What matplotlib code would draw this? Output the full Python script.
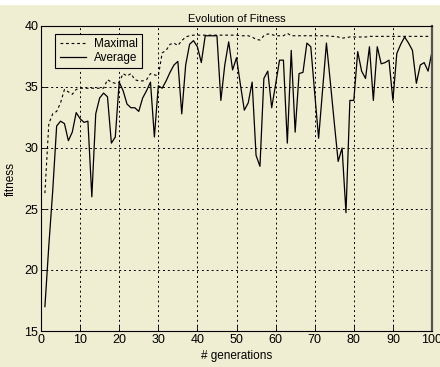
import matplotlib
matplotlib.use("Agg")
from matplotlib import pyplot as plt

import numpy as np

# values, one per generation (1..100)
generations = np.arange(1, 101)

maximal = [
    26.3, 32.0, 32.8, 33.0, 33.7, 34.8, 34.6, 34.4, 34.8, 34.9,
    34.9, 34.9, 34.9, 34.9, 34.9, 34.9, 35.6, 35.4, 35.3, 35.4,
    36.1, 35.9, 36.1, 35.6, 35.5, 35.5, 35.6, 36.1, 36.0, 35.9,
    37.8, 38.0, 38.5, 38.6, 38.4, 38.8, 39.1, 39.2, 39.25, 39.25,
    39.25, 39.25, 39.25, 39.25, 39.25, 39.25, 39.25, 39.25, 39.25, 39.25,
    39.2, 39.2, 39.2, 39.1, 38.9, 38.85, 39.2, 39.35, 39.3, 39.2,
    39.2, 39.2, 39.4, 39.2, 39.2, 39.2, 39.2, 39.2, 39.2, 39.2,
    39.2, 39.2, 39.2, 39.15, 39.15, 39.1, 39.0, 39.05, 39.1, 39.1,
    39.1, 39.1, 39.1, 39.15, 39.15, 39.15, 39.15, 39.15, 39.15, 39.15,
    39.15, 39.15, 39.15, 39.15, 39.15, 39.15, 39.15, 39.15, 39.15, 39.15,
]

average = [
    17.0, 22.0, 26.5, 31.8, 32.2, 32.0, 30.6, 31.3, 32.9, 32.4,
    32.1, 32.2, 26.0, 32.8, 34.1, 34.5, 34.2, 30.4, 30.9, 35.4,
    34.7, 33.6, 33.3, 33.3, 33.0, 34.1, 34.7, 35.4, 30.9, 35.1,
    34.9, 35.5, 36.2, 36.8, 37.1, 32.8, 36.8, 38.5, 38.8, 38.3,
    37.0, 39.2, 39.2, 39.2, 39.2, 33.9, 36.8, 38.7, 36.4, 37.4,
    35.2, 33.1, 33.7, 35.4, 29.4, 28.5, 35.7, 36.3, 33.3, 35.2,
    37.2, 37.2, 30.4, 38.0, 31.3, 36.1, 36.2, 38.6, 38.3, 34.5,
    30.8, 34.7, 38.6, 35.4, 32.1, 28.9, 30.0, 24.7, 33.9, 33.9,
    37.9, 36.3, 35.7, 38.3, 33.9, 38.3, 36.9, 37.0, 37.2, 33.9,
    37.75, 38.5, 39.1, 38.6, 38.0, 35.3, 36.8, 37.0, 36.3, 37.9,
]

BG = "#efedd2"

plt.rcParams["font.family"] = ["Liberation Sans", "DejaVu Sans"]
plt.rcParams["font.size"] = 8

fig = plt.figure(figsize=(4.4, 3.67), dpi=100, facecolor=BG)
ax = fig.add_axes([41 / 440, 1 - 331 / 367, 391 / 440, 305 / 367])
ax.set_facecolor(BG)

ax.plot(generations, maximal, color="black", lw=0.8, ls=(0, (2.5, 2.5)),
        label="Maximal")
ax.plot(generations, average, color="black", lw=0.9, label="Average")

ax.set(xlim=[0, 100], ylim=[15, 40],
       xticks=np.arange(0, 101, 10), yticks=np.arange(15, 41, 5))
ax.grid(True, color="black", ls=(0, (2, 3)), lw=0.7)
ax.tick_params(direction="in", length=4, width=0.6, top=False, right=False,
               labelsize=9, pad=2)
for s in ax.spines.values():
    s.set_linewidth(0.8)
ax.spines["right"].set_linewidth(1.6)
ax.spines["right"].set_color("#555555")

ax.set_title("Evolution of Fitness", fontsize=8, pad=3)
ax.set_xlabel("# generations", fontsize=8.5, labelpad=3)
ax.set_ylabel("fitness", fontsize=8.5, labelpad=5)

leg = ax.legend(loc="upper left", bbox_to_anchor=(0.028, 0.985), fontsize=8.5,
                fancybox=False, edgecolor="black", facecolor=BG, framealpha=1,
                handlelength=2.2, handletextpad=0.7, labelspacing=0.15,
                borderpad=0.35, borderaxespad=0.3)
leg.get_frame().set_linewidth(0.8)

# thin white strip along the top edge, as in the screenshot
fig.patches.append(plt.Rectangle((0, 1 - 4 / 367), 1, 4 / 367,
                                 transform=fig.transFigure, color="white",
                                 zorder=0))

fig.savefig("out.png", dpi=100, facecolor=BG)
